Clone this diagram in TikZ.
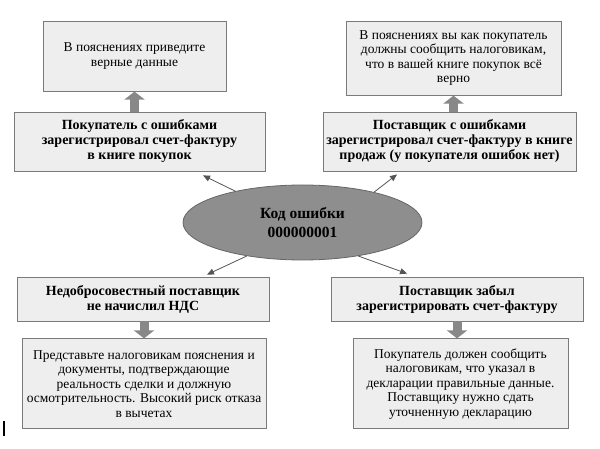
\documentclass[tikz,border=0pt]{standalone}
\usepackage{fontspec}
\setmainfont{Liberation Serif}
\usetikzlibrary{positioning, arrows.meta, shapes.geometric}

\definecolor{boxfill}{HTML}{EEEEEE}
\definecolor{boxline}{HTML}{7A7A7A}
\definecolor{elfill}{HTML}{8E8E8E}
\definecolor{elline}{HTML}{666666}
\definecolor{arrfill}{HTML}{888888}
\definecolor{connline}{HTML}{555555}

\tikzset{
    errbox/.style={draw=boxline, fill=boxfill, line width=0.8pt, align=center, inner sep=2pt,
        font=\bfseries\fontsize{14}{15}\selectfont},
    note/.style={draw=boxline, fill=boxfill, line width=0.8pt, align=center, inner sep=2pt,
        font=\fontsize{13.5}{14.5}\selectfont},
    codeell/.style={ellipse, draw=elline, fill=elfill, line width=0.8pt, align=center,
        minimum width=239pt, minimum height=75pt, font=\bfseries\fontsize{15.5}{19}\selectfont},
    bigarr/.style={draw=arrfill, line width=9pt, -{Triangle[width=20pt,length=8pt]}},
    conn/.style={draw=connline, line width=0.8pt, -{Triangle[width=6pt,length=7pt]}}
}

\begin{document}
\begin{tikzpicture}[x=1pt, y=-1pt]
        \useasboundingbox (0,0) rectangle (600,449);
        \node [codeell] (el) at (302.5,222.5) {Код ошибки\\000000001};
        \node [errbox, minimum width=251pt, minimum height=59pt] (pl) at (139.5,141.5) {Покупатель с ошибками\\зарегистрировал счет-фактуру\\в книге покупок};
        \node [errbox, minimum width=253pt, minimum height=59pt] (pr) at (449.5,141.5) {Поставщик с ошибками\\зарегистрировал счет-фактуру в книге\\продаж (у покупателя ошибок нет)};
        \node [errbox, minimum width=252pt, minimum height=44pt] (nl) at (143,299) {Недобросовестный поставщик\\не начислил НДС};
        \node [errbox, minimum width=252pt, minimum height=44pt] (nr) at (457,299) {Поставщик забыл\\зарегистрировать счет-фактуру};
        \node [note, minimum width=183pt, minimum height=70pt, above=20pt of pl, xshift=-5pt] (tl) {В пояснениях приведите\\верные данные};
        \node [note, minimum width=215pt, minimum height=74pt, above=16pt of pr, xshift=4pt] (tr) {В пояснениях вы как покупатель\\должны сообщить налоговикам,\\что в вашей книге покупок всё\\верно};
        \node [note, minimum width=244pt, minimum height=90pt, below=17pt of nl, xshift=1pt] (bl) {Представьте налоговикам пояснения и\\документы, подтверждающие\\реальность сделки и должную\\осмотрительность. Высокий риск отказа\\в вычетах};
        \node [note, minimum width=215pt, minimum height=90pt, below=17pt of nr, xshift=3.5pt] (br) {Покупатель должен сообщить\\налоговикам, что указал в\\декларации правильные данные.\\Поставщику нужно сдать\\уточненную декларацию};

        \draw [bigarr] (pl.north -| tl) -- (tl.south);
        \draw [bigarr] (pr.north -| tr) -- (tr.south);
        \draw [bigarr] (nl.south -| bl) -- (bl.north);
        \draw [bigarr] (nr.south -| nr) -- (br.north -| nr);
        \draw [conn] (el.155.7) -- ([xshift=63.5pt, yshift=-4pt]pl.south);
        \draw [conn] (el.23.7) -- ([xshift=-52.5pt, yshift=-3pt]pr.south);
        \draw [conn] (el.211) -- ([xshift=64pt, yshift=2pt]nl.north);
        \draw [conn] (el.329) -- ([xshift=-50pt, yshift=3pt]nr.north);
        \draw [line width=1.2pt] (4,421) -- (4,436);
    \end{tikzpicture}
\end{document}
